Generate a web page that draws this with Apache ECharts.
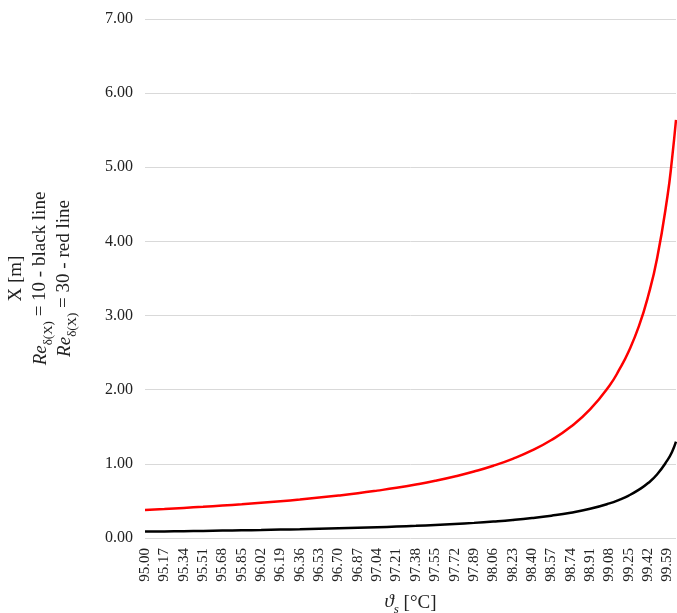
<!DOCTYPE html>
<html>
<head>
<meta charset="utf-8">
<script src="https://cdn.jsdelivr.net/npm/echarts@6/dist/echarts.min.js"></script>
<style>
  html, body { margin: 0; padding: 0; background: #fff; }
  #chart { width: 677px; height: 613px; }
</style>
</head>
<body>
<div id="chart"></div>
<script>
// Tick labels shown along the temperature axis
const tickLabels = ['95.00', '95.17', '95.34', '95.51', '95.68', '95.85', '96.02', '96.19',
  '96.36', '96.53', '96.70', '96.87', '97.04', '97.21', '97.38', '97.55', '97.72', '97.89',
  '98.06', '98.23', '98.40', '98.57', '98.74', '98.91', '99.08', '99.25', '99.42', '99.59'];

// Saturation temperature [°C] of each sampled point
const temps = [95.00, 95.17, 95.34, 95.51, 95.68, 95.85, 96.02, 96.19, 96.36, 96.53, 96.70,
  96.87, 97.04, 97.21, 97.38, 97.55, 97.72, 97.89, 98.06, 98.23, 98.40, 98.57, 98.74, 98.91,
  99.08, 99.17, 99.25, 99.34, 99.42, 99.50, 99.59, 99.63, 99.665];

// X [m] for Re = 10 (black line)
const xRe10 = [0.086, 0.089, 0.092, 0.096, 0.100, 0.104, 0.108, 0.113, 0.118, 0.124, 0.130,
  0.137, 0.145, 0.154, 0.164, 0.176, 0.189, 0.204, 0.222, 0.243, 0.269, 0.301, 0.341, 0.394,
  0.467, 0.518, 0.573, 0.652, 0.741, 0.86, 1.05, 1.16, 1.30];

// X [m] for Re = 30 (red line)
const xRe30 = [0.378, 0.391, 0.406, 0.421, 0.438, 0.455, 0.475, 0.496, 0.519, 0.545, 0.573,
  0.604, 0.639, 0.677, 0.721, 0.771, 0.829, 0.896, 0.974, 1.068, 1.181, 1.322, 1.500, 1.734,
  2.054, 2.28, 2.52, 2.86, 3.26, 3.78, 4.61, 5.11, 5.64];

const FONT = '"Liberation Serif", "Times New Roman", serif';
const TXT = '#222';

const pairs = (xs, ys) => xs.map((x, i) => [x, ys[i]]);

const chart = echarts.init(document.getElementById('chart'), null, { renderer: 'canvas' });

chart.setOption({
  animation: false,
  backgroundColor: '#fff',
  grid: { left: 145, right: 1, top: 19, bottom: 75, containLabel: false, outerBoundsMode: 'none' },
  xAxis: {
    type: 'value',
    min: temps[0],
    max: temps[temps.length - 1],
    axisLine: { show: false },
    axisTick: { show: false },
    splitLine: { show: false },
    axisLabel: {
      customValues: tickLabels.map(Number),
      formatter: v => v.toFixed(2),
      rotate: 90,
      margin: 10,
      fontFamily: FONT,
      fontSize: 15,
      color: TXT
    },
    name: '{it|ϑ}{sub|s} [°C]',
    nameLocation: 'middle',
    nameGap: 54,
    nameTextStyle: {
      fontFamily: FONT,
      fontSize: 19,
      color: TXT,
      rich: {
        it: { fontFamily: FONT, fontStyle: 'italic', fontSize: 19, color: TXT, verticalAlign: 'top', lineHeight: 22 },
        sub: { fontFamily: FONT, fontStyle: 'italic', fontSize: 13, color: TXT, verticalAlign: 'top', lineHeight: 13, padding: [11, 0, 0, 0] }
      }
    }
  },
  yAxis: {
    type: 'value',
    min: 0,
    max: 7,
    interval: 1,
    axisLine: { show: false },
    axisTick: { show: false },
    splitLine: { lineStyle: { color: '#d9d9d9', width: 1 } },
    axisLabel: {
      formatter: v => v.toFixed(2),
      margin: 12,
      fontFamily: FONT,
      fontSize: 16,
      color: TXT
    },
    name: '{n|X [m]}\n{it|Re}{sub|δ(X)}{n| = 10 - black line}\n{it|Re}{sub|δ(X)}{n| = 30 - red line}',
    nameLocation: 'middle',
    nameRotate: 90,
    nameGap: 66,
    nameTextStyle: {
      fontFamily: FONT,
      fontSize: 19,
      color: TXT,
      align: 'center',
      rich: {
        it: { fontFamily: FONT, fontStyle: 'italic', fontSize: 19, color: TXT, verticalAlign: 'top', lineHeight: 24 },
        n: { fontFamily: FONT, fontSize: 19, color: TXT, verticalAlign: 'top', lineHeight: 24 },
        sub: { fontFamily: FONT, fontSize: 13, color: TXT, verticalAlign: 'top', lineHeight: 13, padding: [11, 0, 0, 0] }
      }
    }
  },
  series: [
    {
      name: 'Re = 10',
      type: 'line',
      data: pairs(temps, xRe10),
      smooth: true,
      showSymbol: false,
      lineStyle: { color: '#000000', width: 2.5 },
      itemStyle: { color: '#000000' }
    },
    {
      name: 'Re = 30',
      type: 'line',
      data: pairs(temps, xRe30),
      smooth: true,
      showSymbol: false,
      lineStyle: { color: '#ff0000', width: 2.5 },
      itemStyle: { color: '#ff0000' }
    }
  ]
});
</script>
</body>
</html>
